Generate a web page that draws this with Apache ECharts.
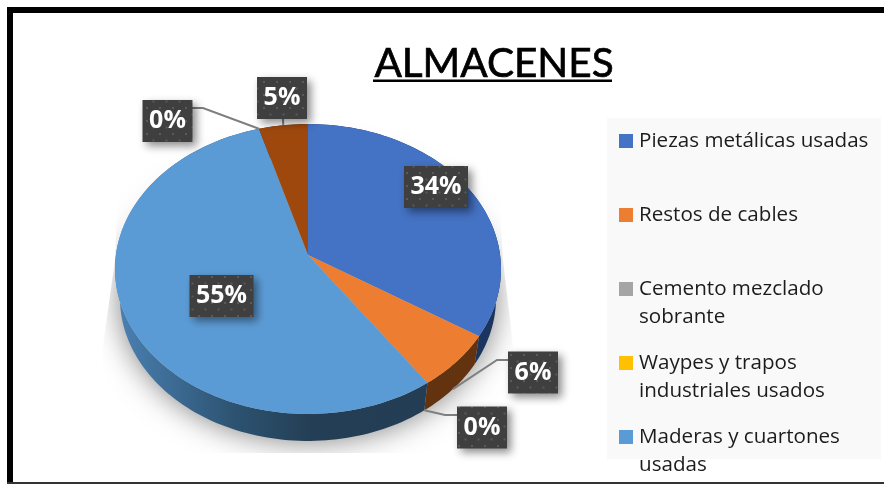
<!DOCTYPE html>
<html><head><meta charset="utf-8">
<style>html,body{margin:0;padding:0;background:#fff}#c{width:884px;height:484px}</style>
<script src="https://cdn.jsdelivr.net/npm/echarts@6/dist/echarts.min.js"></script>
</head><body><div id="c"></div>
<script>
// ---- data (clockwise from 12 o'clock) ----
const categories = ['Piezas metálicas usadas','Restos de cables','Cemento mezclado sobrante','Waypes y trapos industriales usados','Maderas y cuartones usadas','Otros','Otros usados'];
const values = [34, 6.3, 0, 0, 55.2, 0, 4.5];
const colors = ['#4472C4','#ED7D31','#A5A5A5','#FFC000','#5B9BD5','#70AD47','#9E480E'];
const legendLabels = ['Piezas metálicas usadas','Restos de cables','Cemento mezclado\nsobrante','Waypes y trapos\nindustriales usados','Maderas y cuartones\nusadas'];
const titleText = 'ALMACENES';

// ---- layout ----
const FONT = '"Open Sans"';
const apex = {x:308, y:255};
const K = -0.0966, A = 192.1, B = 143.6;          // perspective of the pie's top face
const topC = {y:269, ry:145}, baseC = {y:298, ry:143, rx:188, topRx:193};
const labelLayout = [
  {c:[436,187], w:64},
  {c:[533,372.5], w:50, elbow:[[508,360],[497,360]], anchor:'base'},
  {c:[482,427.5], w:50, elbow:[[457,415],[445,415]], anchor:'base'},
  null,
  {c:[221.5,296], w:64},
  {c:[167.5,121], w:50, elbow:[[192,108],[203,108]], anchor:'top'},
  {c:[282,98], w:50, elbow:[[283,119]], anchor:'top'}
];
const sideFill = [
  '#1B3560','#63330F','#555','#777',
  {type:'linear',global:true,x:118,y:0,x2:430,y2:0,colorStops:[{offset:0,color:'#4A80B2'},{offset:.38,color:'#2C5270'},{offset:.62,color:'#243F55'},{offset:1,color:'#233E54'}]},
  '#3f6', '#5E2B08'
];
const total = values.reduce((a,b)=>a+b,0);

function project(frac){
  const t = frac*2*Math.PI, u = Math.sin(t), v = -Math.cos(t), d = 1+K*v;
  return [apex.x + A*u/d, apex.y + B*v/d];
}
function toBase(p){
  return [apex.x + (p[0]-apex.x)*baseC.rx/baseC.topRx, baseC.y + (p[1]-topC.y)*baseC.ry/topC.ry];
}
function rim(f0,f1){
  const pts=[], n=Math.max(2,Math.ceil((f1-f0)*240));
  for(let k=0;k<=n;k++) pts.push(project(f0+(f1-f0)*k/n));
  return pts;
}
let pattern = null;
function dotPattern(){
  if(pattern) return pattern;
  const s=document.createElement('canvas'); s.width=s.height=13;
  const g=s.getContext('2d'); g.fillStyle='#3F3F3F'; g.fillRect(0,0,13,13);
  g.fillStyle='#5A5A5A';
  g.fillRect(3,3,2,2); g.fillRect(9.5,9.5,2,2);
  pattern=s; return s;
}

function renderSlice(i){
  return function(params, api){
    const val = api.value(0);
    const f0 = values.slice(0,i).reduce((a,b)=>a+b,0)/total;
    const f1 = f0 + val/total;
    const kids = [];
    const arc = rim(f0,f1);
    if(val>0){
      const base = arc.map(toBase).reverse();
      kids.push({type:'polygon',z2:2,shape:{points:arc.concat(base)},style:{fill:sideFill[i]}});
      kids.push({type:'polygon',z2:4,shape:{points:[[apex.x,apex.y]].concat(arc)},style:{fill:api.visual('color')}});
    }
    const L = labelLayout[i];
    if(L){
      const txt = Math.round(val/total*100)+'%';
      const [cx,cy] = L.c, w=L.w, h=42;
      if(L.elbow){
        const mid = project(val>0?(f0+f1)/2:f0);
        const end = L.anchor==='base'?toBase(mid):mid;
        kids.push({type:'polyline',z2:6,shape:{points:L.elbow.concat([end])},style:{fill:'none',stroke:'#7F7F7F',lineWidth:2}});
      }
      kids.push({type:'rect',z2:7,shape:{x:cx-w/2,y:cy-h/2,width:w,height:h},
        style:{fill:{image:dotPattern(),repeat:'repeat'},shadowColor:'rgba(0,0,0,.45)',shadowBlur:8,shadowOffsetX:4,shadowOffsetY:4}});
      kids.push({type:'text',z2:8,x:cx,y:cy,style:{text:txt,fill:'#fff',font:'700 25px '+FONT,align:'center',verticalAlign:'middle'}});
    }
    return {type:'group',children:kids};
  };
}

const legendCentres = [141, 215, 289, 363, 437];
const legends = legendLabels.map((t,i)=>{
  const two = t.indexOf('\n')>=0;
  return {
    left:619, top:legendCentres[i]-14, orient:'vertical', selectedMode:false, padding:0,
    itemWidth:14, itemHeight:two?42:14, itemGap:0,
    data:[{name:categories[i], icon: two?'path://M0 0H14V14H0Z M0 42L0 42L0 42Z':'rect'}],
    formatter:()=>t,
    textStyle:{fontFamily:FONT,fontSize:20.6,color:'#1C1C1C',lineHeight:28,padding:[0,0,0,1]}
  };
});

const chart = echarts.init(document.getElementById('c'),null,{renderer:'canvas'});
chart.setOption({
  animation:false,
  color:colors,
  title:{text:titleText,left:489,top:38,textAlign:'center',textStyle:{fontFamily:'Lato',fontSize:40.5,fontWeight:'normal',color:'#000',textBorderColor:'#000',textBorderWidth:0.7}},
  legend:legends,
  graphic:[
    {type:'ellipse',z:0,shape:{cx:308,cy:298,rx:188,ry:143},style:{fill:'#bbb',shadowColor:'rgba(0,0,0,.5)',shadowBlur:30}},
    {type:'polygon',z:0,shape:{points:[[13,13],[125,13],[115,260],[103,345],[103,453],[13,453]]},style:{fill:'#fff'}},
    {type:'polygon',z:0,shape:{points:[[884,13],[490,13],[503,260],[513,345],[513,453],[884,453]]},style:{fill:'#fff'}},
    {type:'rect',z:0,shape:{x:13,y:453,width:871,height:30},style:{fill:'#fff'}},
    {type:'rect',z:0,shape:{x:7,y:7,width:877,height:6},style:{fill:'#000'}},
    {type:'rect',z:0,shape:{x:7,y:7,width:6,height:477},style:{fill:'#000'}},
    {type:'rect',z:0,shape:{x:7,y:482,width:877,height:2},style:{fill:'#333'}},
    {type:'rect',z:0,shape:{x:607,y:118,width:274,height:341},style:{fill:'#F9F9F9'}},
    {type:'rect',z:0,shape:{x:373,y:79.5,width:239,height:2.5},style:{fill:'#000'}}
  ],
  series:categories.map((name,i)=>({
    type:'custom',name,coordinateSystem:'none',z:2,silent:true,
    itemStyle:{color:colors[i]},
    data:[[values[i]]],
    renderItem:renderSlice(i)
  }))
});
</script></body></html>
